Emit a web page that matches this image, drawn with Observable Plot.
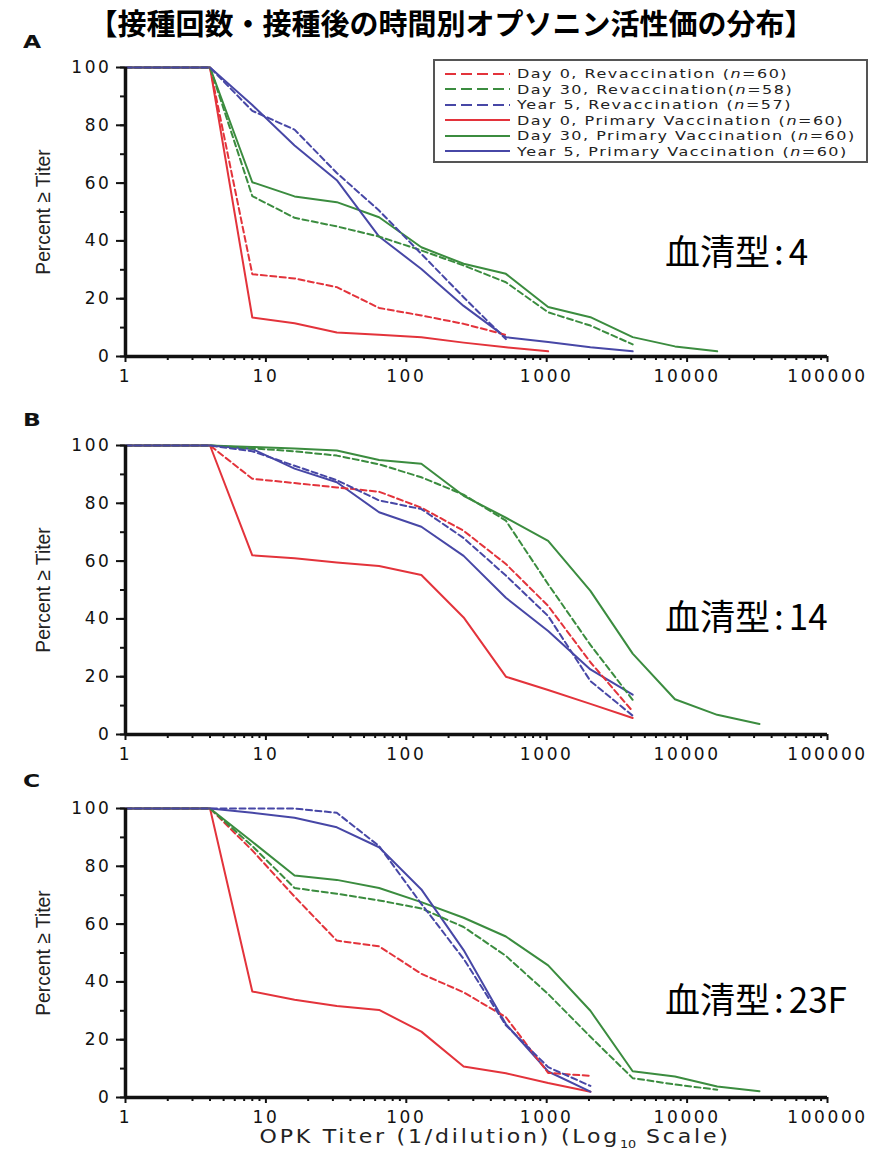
<!DOCTYPE html>
<html>
<head>
<meta charset="utf-8">
<script src="https://cdn.jsdelivr.net/npm/d3@7"></script>
<script src="https://cdn.jsdelivr.net/npm/@observablehq/plot@0.6"></script>
<style>
  body { margin: 0; background: #fff; }
  #root { position: relative; width: 890px; height: 1152px; overflow: hidden; background: #fff; }
  .abs { position: absolute; }
  .title { top: 5px; left: 6px; width: 890px; text-align: center; font-family: "Noto Sans CJK JP", sans-serif; font-weight: 700; font-size: 29px; line-height: 34px; color: #000; white-space: nowrap; }
  .letter { font-family: "DejaVu Sans", sans-serif; font-weight: 700; font-size: 18px; line-height: 20px; color: #111; transform: scaleX(1.3); transform-origin: left center; }
  .sero { font-family: "Noto Sans CJK JP", sans-serif; font-size: 35px; line-height: 40px; color: #000; white-space: nowrap; }
  .ylab { font-family: "Liberation Sans", sans-serif; font-size: 21px; line-height: 24px; color: #222; white-space: nowrap; width: 180px; text-align: center; transform: rotate(-90deg) scaleX(0.92); }
  .xlab { top: 1124px; left: 100px; width: 790px; text-align: center; font-family: "DejaVu Sans", sans-serif; font-size: 19px; line-height: 24px; letter-spacing: 2.4px; color: #222; white-space: nowrap; }
  .xlab span.inner { display: inline-block; transform: scaleX(1.16); transform-origin: center; }
  .legend { left: 433px; top: 59px; width: 435px; height: 104px; border: 2px solid #555; box-sizing: border-box; padding-top: 5px; background: #fff; }
  .lrow { display: flex; align-items: center; height: 15.5px; font-family: "DejaVu Sans", sans-serif; font-size: 12.8px; line-height: 15px; letter-spacing: 1.2px; color: #222; white-space: nowrap; }
  .lrow svg { margin-left: 10px; margin-right: 7px; flex: none; }
  .lrow span.txt { display: inline-block; transform: scaleX(1.25); transform-origin: left center; }
</style>
</head>
<body>
<div id="root"></div>
<script>
// ---- data ----
const titers = [1, 4, 8, 16, 32, 64, 128, 256, 512, 1024, 2048, 4096, 8192, 16384, 32768];
const times = ["Day 0", "Day 30", "Year 5"];
const colors = ["#e3333b", "#3b8c3f", "#4747a6"];
const xTickValues = [1, 10, 100, 1000, 10000, 100000];
const yTickValues = [0, 20, 40, 60, 80, 100];

// Panel A (serotype 4)
const aRevDay0 = [100, 100, 28.5, 27, 24, 16.8, 14.2, 11.3, 7.5];
const aRevDay30 = [100, 100, 55.5, 48, 45, 41.5, 36.7, 31.5, 25.7, 15.3, 10.7, 4.2];
const aRevYear5 = [100, 100, 85, 78.5, 63.5, 50.5, 35.5, 20.5, 6];
const aPriDay0 = [100, 100, 13.5, 11.5, 8.3, 7.5, 6.7, 4.8, 3.2, 1.8];
const aPriDay30 = [100, 100, 60.3, 55.4, 53.4, 48.2, 37.8, 32.1, 28.6, 17.1, 13.6, 6.7, 3.5, 1.8];
const aPriYear5 = [100, 100, 87, 73, 61, 41.5, 30.3, 17.5, 6.7, 5, 3.2, 1.8];

// Panel B (serotype 14)
const bRevDay0 = [100, 100, 88.5, 87, 85.5, 84, 78.5, 70.5, 59, 44.5, 25, 8];
const bRevDay30 = [100, 100, 99, 98, 96.5, 93.5, 89, 83, 74, 52, 31, 12];
const bRevYear5 = [100, 100, 98, 93, 88, 81, 78, 68, 55, 41, 18.5, 6.5];
const bPriDay0 = [100, 100, 62, 61, 59.5, 58.3, 55.2, 40.5, 20, 15.4, 10.6, 5.7];
const bPriDay30 = [100, 100, 99.5, 99, 98.3, 95, 93.7, 82.6, 75, 67, 49.7, 28, 12.2, 6.8, 3.6];
const bPriYear5 = [100, 100, 98.8, 92, 87.3, 76.9, 71.9, 61.8, 47.3, 35.8, 22.5, 13.8];

// Panel C (serotype 23F)
const cRevDay0 = [100, 100, 85.5, 69.5, 54.3, 52.3, 42.8, 36.4, 27.8, 8.5, 7.5];
const cRevDay30 = [100, 100, 87, 72.5, 70.5, 68.2, 65.4, 59, 49, 35.8, 21, 6.7, 4.5, 2.7];
const cRevYear5 = [100, 100, 100, 100, 98.5, 87, 67, 48, 25, 10.5, 4];
const cPriDay0 = [100, 100, 36.7, 33.8, 31.7, 30.3, 22.8, 10.7, 8.4, 5, 2];
const cPriDay30 = [100, 100, 88.5, 76.8, 75.3, 72.5, 67.6, 62.2, 55.7, 45.7, 30, 9.1, 7.3, 3.8, 2.2];
const cPriYear5 = [100, 100, 98.5, 96.8, 93.5, 86.6, 72, 51, 25.4, 9, 2];

const panelLetters = ["A", "B", "C"];
const serotypes = ["血清型:4", "血清型:14", "血清型:23F"];
const legendRev = ["Day 0, Revaccination (<i>n</i>=60)", "Day 30, Revaccination(<i>n</i>=58)", "Year 5, Revaccination (<i>n</i>=57)"];
const legendPri = ["Day 0, Primary Vaccination (<i>n</i>=60)", "Day 30, Primary Vaccination (<i>n</i>=60)", "Year 5, Primary Vaccination (<i>n</i>=60)"];
const titleText = "【接種回数・接種後の時間別オプソニン活性価の分布】";
const yLabel = "Percent ≥ Titer";

// ---- helpers ----
function rows(arr, time) { return arr.map((v, i) => ({titer: titers[i], pct: v, time})); }
const panelData = [
  {rev: [aRevDay0, aRevDay30, aRevYear5], pri: [aPriDay0, aPriDay30, aPriYear5]},
  {rev: [bRevDay0, bRevDay30, bRevYear5], pri: [bPriDay0, bPriDay30, bPriYear5]},
  {rev: [cRevDay0, cRevDay30, cRevYear5], pri: [cPriDay0, cPriDay30, cPriYear5]}
];
const minorX = [];
for (const d of [1, 10, 100, 1000, 10000]) for (let k = 2; k <= 9; k++) minorX.push(d * k);
const minorY = d3.range(0, 101, 10);

// layout
const panelTops = [47, 425, 788];
const letterTops = [32, 410, 771];
const seroTops = [230, 595, 978];

const root = document.getElementById("root");
function addDiv(cls, html, style) {
  const d = document.createElement("div");
  d.className = "abs " + cls;
  d.innerHTML = html;
  Object.assign(d.style, style || {});
  root.appendChild(d);
  return d;
}

addDiv("title", titleText);

panelData.forEach((p, i) => {
  const rev = p.rev.flatMap((a, j) => rows(a, times[j]));
  const pri = p.pri.flatMap((a, j) => rows(a, times[j]));
  const chart = Plot.plot({
    width: 890,
    height: 349,
    marginLeft: 125,
    marginRight: 63,
    marginTop: 20,
    marginBottom: 40,
    x: {type: "log", domain: [1, 100000]},
    y: {domain: [0, 100]},
    color: {domain: times, range: colors},
    style: {fontFamily: "DejaVu Sans, sans-serif", fontSize: "17px", letterSpacing: "2.6px", color: "#111", background: "transparent", overflow: "visible"},
    marks: [
      Plot.axisY({ticks: minorY, tickSize: 5, tickFormat: () => "", label: null, strokeWidth: 2}),
      Plot.axisY({ticks: yTickValues, tickSize: 9, tickPadding: 5, label: null, strokeWidth: 2}),
      Plot.axisX({ticks: minorX, tickSize: 4, tickFormat: () => "", label: null, strokeWidth: 2}),
      Plot.axisX({ticks: xTickValues, tickSize: 6, tickPadding: 7, tickFormat: d => String(d), label: null, strokeWidth: 2}),
      Plot.line(pri, {x: "titer", y: "pct", z: "time", stroke: "time", strokeWidth: 2}),
      Plot.line(rev, {x: "titer", y: "pct", z: "time", stroke: "time", strokeWidth: 2, strokeDasharray: "6,3.5"}),
      Plot.ruleX([1], {stroke: "#111", strokeWidth: 3.5}),
      Plot.ruleY([0], {stroke: "#111", strokeWidth: 3.5})
    ]
  });
  chart.style.position = "absolute";
  chart.style.left = "0px";
  chart.style.top = panelTops[i] + "px";
  root.appendChild(chart);

  addDiv("letter", panelLetters[i], {left: "23px", top: letterTops[i] + "px"});
  const parts = serotypes[i].split(":");
  addDiv("sero", parts[0] + '<span style="margin:0 5px 0 4px">:</span>' + parts[1], {left: "665px", top: seroTops[i] + "px"});
  const plotMid = panelTops[i] + 20 + 289 / 2;
  addDiv("ylab", yLabel, {left: (43 - 90) + "px", top: (plotMid - 12) + "px"});
});

// legend
const legend = addDiv("legend", "");
const entries = [
  ...legendRev.map((t, j) => ({t, c: colors[j], dash: true})),
  ...legendPri.map((t, j) => ({t, c: colors[j], dash: false}))
];
entries.forEach(e => {
  const r = document.createElement("div");
  r.className = "lrow";
  r.innerHTML = `<svg width="65" height="6"><line x1="0" y1="3" x2="65" y2="3" stroke="${e.c}" stroke-width="2" ${e.dash ? 'stroke-dasharray="11,5"' : ''}/></svg><span class="txt">${e.t}</span>`;
  legend.appendChild(r);
});

addDiv("xlab", "<span class=\"inner\">OPK Titer (1/dilution) (Log<sub style=\"font-size:11px;letter-spacing:0\">10</sub> Scale)</span>");
</script>
</body>
</html>
